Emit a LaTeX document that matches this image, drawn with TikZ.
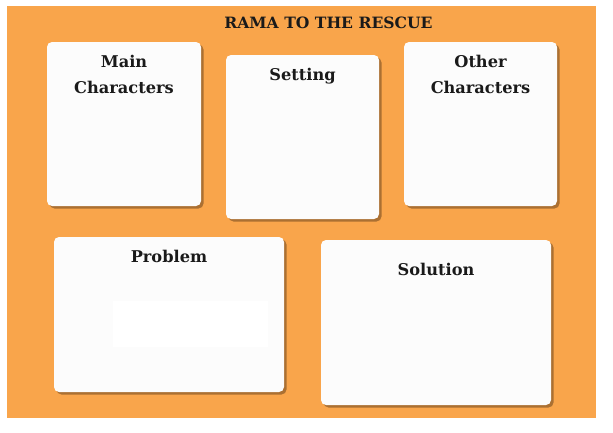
\documentclass[tikz,border=0pt]{standalone}
\usepackage{fontspec}
\setmainfont{DejaVu Serif}
\usepackage{tikz}
\usetikzlibrary{positioning,shadows}
\definecolor{sheetorange}{HTML}{F9A54B}
\definecolor{cardshade}{HTML}{8A5A28}
\definecolor{inkdark}{HTML}{1A1A1A}
\tikzset{
    card/.style={draw=none, fill=white!99!black, rounded corners=5pt,
        drop shadow={shadow xshift=2.5pt, shadow yshift=-2.5pt, fill=cardshade, opacity=.7}},
    cardtitle/.style={font=\bfseries\fontsize{16.2}{25.5}\selectfont, text=inkdark, align=center, inner sep=0pt}
}
\begin{document}
\begin{tikzpicture}[x=1pt, y=-1pt]
    \useasboundingbox[fill=white] (0,0) rectangle (613,432);
    % Sheet
    \fill[sheetorange] (7,6) rectangle (596,418);
    \node[font=\bfseries\fontsize{15.6}{18}\selectfont, text=inkdark, inner sep=0pt] (title) at (328.5,22.5) {RAMA TO THE RESCUE};

    % Cards, top row
    \node[card, minimum width=154pt, minimum height=164pt] (main) at (124,124) {};
    \node[card, minimum width=153pt, minimum height=164pt] (setting) at (302.5,137) {};
    \node[card, minimum width=153pt, minimum height=164pt] (other) at (480.5,124) {};
    % Cards, bottom row
    \node[card, minimum width=230pt, minimum height=155pt] (problem) at (169,314.5) {};
    \node[card, minimum width=230pt, minimum height=165pt] (solution) at (436,322.5) {};
    \fill[white] (113,301) rectangle (268,347);

    % Titles
    \node[cardtitle, below=13.5pt of main.north] {Main\\Characters};
    \node[cardtitle, below=13pt of setting.north] {Setting};
    \node[cardtitle, below=13.5pt of other.north] {Other\\Characters};
    \node[cardtitle, below=13pt of problem.north] {Problem};
    \node[cardtitle, below=23.5pt of solution.north] {Solution};
\end{tikzpicture}
\end{document}
